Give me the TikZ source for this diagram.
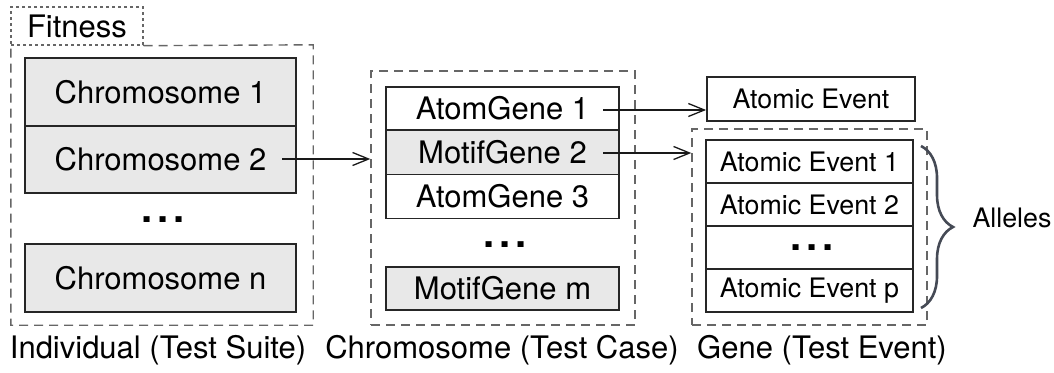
\documentclass[tikz,border=0pt]{standalone}
\usepackage{fontspec}
\setmainfont{TeX Gyre Heros}
\usetikzlibrary{arrows.meta,decorations.pathreplacing}
\definecolor{bracecol}{HTML}{454A55}
\begin{document}
\begin{tikzpicture}[x=1pt,y=-1pt,
  cell/.style={draw=black!85, line width=1.8pt, inner sep=0pt, font=\fontsize{31}{36}\selectfont},
  gcell/.style={cell, fill=black!9},
  scell/.style={cell, font=\fontsize{26.8}{32}\selectfont},
  grp/.style={draw=black!60, line width=1.4pt, dash pattern=on 9pt off 6pt},
  fitgrp/.style={draw=black!60, line width=1.4pt, dash pattern=on 3pt off 3pt},
  lbl/.style={font=\fontsize{31}{36}\selectfont, inner sep=0pt},
  slbl/.style={font=\fontsize{26.8}{32}\selectfont, inner sep=0pt},
  dotsy/.style={font=\bfseries\fontsize{40}{40}\selectfont\addfontfeature{LetterSpace=12}, inner sep=0pt},
  arr/.style={-{Straight Barb[length=16pt,width=13pt,line width=1.3pt]}, line width=1.3pt, black!90}]
\useasboundingbox (0,0) rectangle (1054,372);

% Individual
\node[draw=none, minimum width=302pt, minimum height=280pt, inner sep=0pt] (ind) at (162,185) {};
\node[fitgrp, minimum width=132pt, minimum height=38pt, inner sep=0pt, font=\fontsize{31}{36}\selectfont] (fit) at (77,26) {Fitness};
\draw[grp] (fit.south east) -- (ind.north east) -- (ind.south east) -- (ind.south west) -- (ind.north west);
\node[gcell, minimum width=271pt, minimum height=68pt] (c1) at (160.5,92) {Chromosome 1};
\node[gcell, minimum width=271pt, minimum height=67pt] (c2) at (160.5,159.5) {Chromosome 2};
\node[dotsy] (cd) at (163,220) {...};
\node[gcell, minimum width=271pt, minimum height=68pt] (cn) at (160.5,278) {Chromosome n};
\node[lbl] (l1) at (158,350) {Individual (Test Suite)};

% Chromosome
\node[grp, minimum width=264pt, minimum height=254pt, inner sep=0pt] (chr) at (503,198) {};
\node[cell, minimum width=233pt, minimum height=43pt] (g1) at (502.5,108.5) {AtomGene 1};
\node[gcell, minimum width=233pt, minimum height=44pt] (g2) at (502.5,152.5) {MotifGene 2};
\node[cell, minimum width=233pt, minimum height=44pt] (g3) at (502.5,196.5) {AtomGene 3};
\node[dotsy] (gd) at (505,245) {...};
\node[gcell, minimum width=233pt, minimum height=43pt] (gm) at (502.5,288.5) {MotifGene m};
\node[lbl] (l2) at (502,350) {Chromosome (Test Case)};

% Gene
\node[scell, minimum width=208pt, minimum height=44pt] (ae) at (811,99) {Atomic Event};
\node[grp, minimum width=235pt, minimum height=196pt, inner sep=0pt] (gene) at (809.5,227) {};
\node[scell, minimum width=207pt, minimum height=43pt] (e1) at (809.5,161.5) {Atomic Event 1};
\node[scell, minimum width=207pt, minimum height=43pt] (e2) at (809.5,204.5) {Atomic Event 2};
\node[scell, minimum width=207pt, minimum height=43pt] (ed) at (809.5,247.5) {};
\node[dotsy] (edt) at (812,248) {...};
\node[scell, minimum width=207pt, minimum height=43pt] (ep) at (809.5,290.5) {Atomic Event p};
\node[lbl] (l3) at (822,350) {Gene (Test Event)};

% Alleles brace
\coordinate (bt) at (921,146);
\coordinate (bb) at (921,308);
\draw[bracecol, line width=2.6pt, decorate, decoration={brace, amplitude=32pt}] (bt) -- (bb);
\node[slbl] (al) at (1012,218) {Alleles};

% Arrows
\coordinate (s1) at (282,159);
\coordinate (s2) at (603,110);
\coordinate (s3) at (603,153);
\draw[arr] (s1) -- (s1 -| chr.west);
\draw[arr] (s2) -- (s2 -| ae.west);
\draw[arr] (s3) -- (s3 -| gene.west);
\end{tikzpicture}
\end{document}
